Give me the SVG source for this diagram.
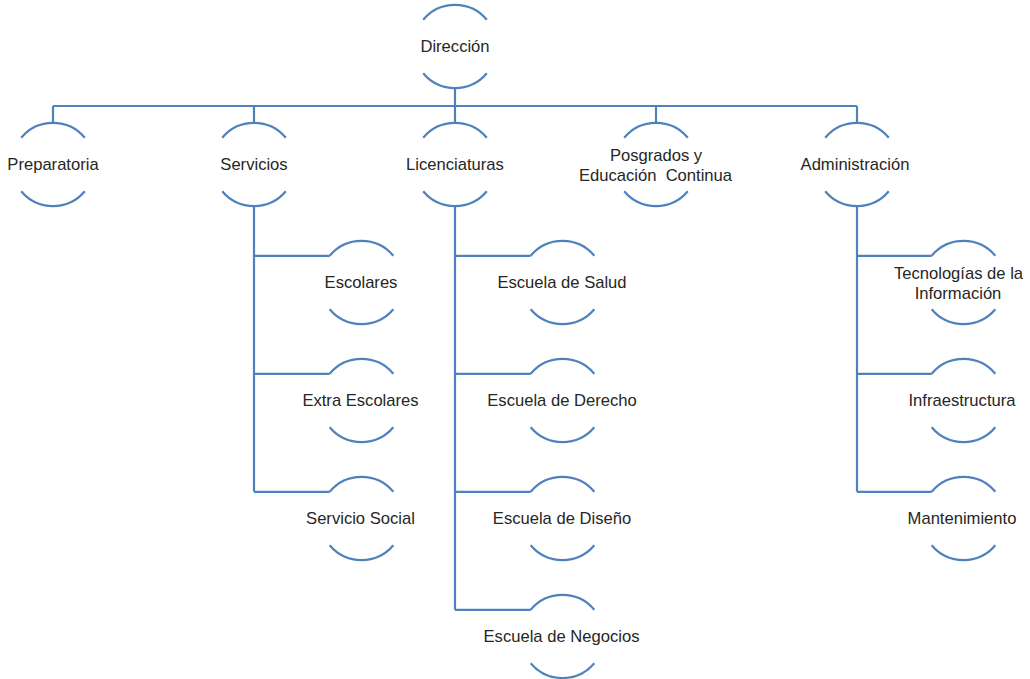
<svg xmlns="http://www.w3.org/2000/svg" width="1030" height="679" viewBox="0 0 1030 679">
<style>
.arc{fill:none;stroke:#4f81bd;stroke-width:2.2}
.con{fill:none;stroke:#4f81bd;stroke-width:2.2}
text{font-family:"Liberation Sans",Arial,sans-serif;font-size:16.6px;fill:#262626;text-anchor:middle;white-space:pre}
</style>
<rect width="1030" height="679" fill="#ffffff"/>
<g id="connectors">
<path class="con" d="M455 88V106M53 106H857M53 106V123M254 106V123M455 106V123M656 106V123M857 106V123"/>
<path class="con" d="M254 206V491.8M254 255.8H329.7M254 373.8H329.7M254 491.8H329.7"/>
<path class="con" d="M455 206V609.8M455 255.8H530.7M455 373.8H530.7M455 491.8H530.7M455 609.8H530.7"/>
<path class="con" d="M857 206V491.8M857 255.8H931.7M857 373.8H931.7M857 491.8H931.7"/>
</g>
<g id="direccion">
<path class="arc" d="M423.2 19.8A41.5 41.5 0 0 1 486.8 19.8M423.2 73.2A41.5 41.5 0 0 0 486.8 73.2"/>
<text x="455" y="52">Dirección</text>
</g>
<g id="preparatoria">
<path class="arc" d="M21.2 137.8A41.5 41.5 0 0 1 84.8 137.8M21.2 191.2A41.5 41.5 0 0 0 84.8 191.2"/>
<text x="53" y="170">Preparatoria</text>
</g>
<g id="servicios">
<path class="arc" d="M222.2 137.8A41.5 41.5 0 0 1 285.8 137.8M222.2 191.2A41.5 41.5 0 0 0 285.8 191.2"/>
<text x="254" y="170">Servicios</text>
</g>
<g id="licenciaturas">
<path class="arc" d="M423.2 137.8A41.5 41.5 0 0 1 486.8 137.8M423.2 191.2A41.5 41.5 0 0 0 486.8 191.2"/>
<text x="455" y="170">Licenciaturas</text>
</g>
<g id="posgrados">
<path class="arc" d="M624.2 137.8A41.5 41.5 0 0 1 687.8 137.8M624.2 191.2A41.5 41.5 0 0 0 687.8 191.2"/>
<text x="656" y="160.5">Posgrados y</text>
<text x="655.5" y="180.5">Educación  Continua</text>
</g>
<g id="administracion">
<path class="arc" d="M825.2 137.8A41.5 41.5 0 0 1 888.8 137.8M825.2 191.2A41.5 41.5 0 0 0 888.8 191.2"/>
<text x="855" y="170">Administración</text>
</g>
<g id="escolares">
<path class="arc" d="M329.7 255.8A41.5 41.5 0 0 1 393.3 255.8M329.7 309.2A41.5 41.5 0 0 0 393.3 309.2"/>
<text x="361" y="288">Escolares</text>
</g>
<g id="extra-escolares">
<path class="arc" d="M329.7 373.8A41.5 41.5 0 0 1 393.3 373.8M329.7 427.2A41.5 41.5 0 0 0 393.3 427.2"/>
<text x="360.5" y="406">Extra Escolares</text>
</g>
<g id="servicio-social">
<path class="arc" d="M329.7 491.8A41.5 41.5 0 0 1 393.3 491.8M329.7 545.2A41.5 41.5 0 0 0 393.3 545.2"/>
<text x="360.5" y="524">Servicio Social</text>
</g>
<g id="escuela-salud">
<path class="arc" d="M530.7 255.8A41.5 41.5 0 0 1 594.3 255.8M530.7 309.2A41.5 41.5 0 0 0 594.3 309.2"/>
<text x="562" y="288">Escuela de Salud</text>
</g>
<g id="escuela-derecho">
<path class="arc" d="M530.7 373.8A41.5 41.5 0 0 1 594.3 373.8M530.7 427.2A41.5 41.5 0 0 0 594.3 427.2"/>
<text x="562" y="406">Escuela de Derecho</text>
</g>
<g id="escuela-diseno">
<path class="arc" d="M530.7 491.8A41.5 41.5 0 0 1 594.3 491.8M530.7 545.2A41.5 41.5 0 0 0 594.3 545.2"/>
<text x="562" y="524">Escuela de Diseño</text>
</g>
<g id="escuela-negocios">
<path class="arc" d="M530.7 609.8A41.5 41.5 0 0 1 594.3 609.8M530.7 663.2A41.5 41.5 0 0 0 594.3 663.2"/>
<text x="561.5" y="642">Escuela de Negocios</text>
</g>
<g id="tecnologias">
<path class="arc" d="M931.7 255.8A41.5 41.5 0 0 1 995.3 255.8M931.7 309.2A41.5 41.5 0 0 0 995.3 309.2"/>
<text x="958.5" y="278.5">Tecnologías de la</text>
<text x="958" y="298.5">Información</text>
</g>
<g id="infraestructura">
<path class="arc" d="M931.7 373.8A41.5 41.5 0 0 1 995.3 373.8M931.7 427.2A41.5 41.5 0 0 0 995.3 427.2"/>
<text x="962" y="406">Infraestructura</text>
</g>
<g id="mantenimiento">
<path class="arc" d="M931.7 491.8A41.5 41.5 0 0 1 995.3 491.8M931.7 545.2A41.5 41.5 0 0 0 995.3 545.2"/>
<text x="962" y="524">Mantenimiento</text>
</g>
</svg>
